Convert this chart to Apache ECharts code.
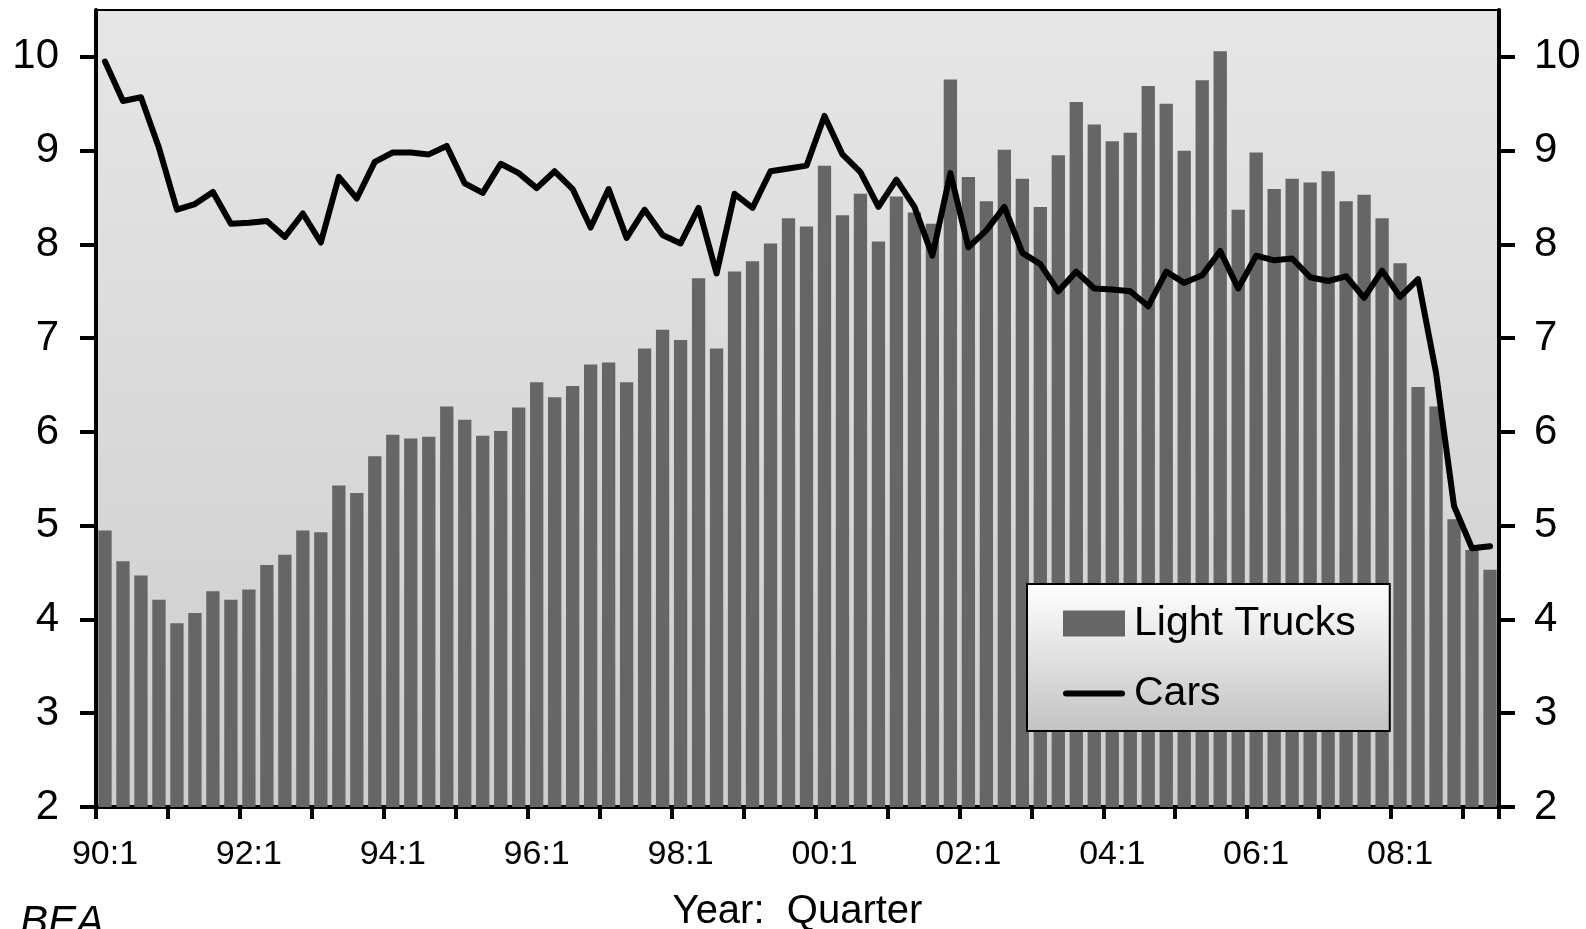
<!DOCTYPE html>
<html>
<head>
<meta charset="utf-8">
<title>Light Trucks vs Cars</title>
<script src="https://cdn.jsdelivr.net/npm/echarts@6.0.0/dist/echarts.min.js"></script>
<style>
  html, body { margin: 0; padding: 0; background: #fff; }
  #chart { width: 1586px; height: 929px; }
</style>
</head>
<body>
<div id="chart"></div>
<script>
// quarters 90:1 .. 09:2
const quarters = [];
for (let y = 1990; y <= 2009; y++) {
  for (let q = 1; q <= 4; q++) {
    if (y === 2009 && q > 2) break;
    quarters.push(String(y % 100).padStart(2, '0') + ':' + q);
  }
}

const lightTrucks = [
  4.95, 4.62, 4.47, 4.21, 3.96, 4.07, 4.30, 4.21, 4.32, 4.58, 4.69, 4.95, 4.93, 5.43, 5.35, 5.74,
  5.97, 5.93, 5.95, 6.27, 6.13, 5.96, 6.01, 6.26, 6.53, 6.37, 6.49, 6.72, 6.74, 6.53, 6.89, 7.09,
  6.98, 7.64, 6.89, 7.71, 7.82, 8.01, 8.28, 8.19, 8.84, 8.31, 8.54, 8.03, 8.51, 8.34, 8.22, 9.76,
  8.72, 8.46, 9.01, 8.70, 8.40, 8.95, 9.52, 9.28, 9.10, 9.19, 9.69, 9.50, 9.00, 9.75, 10.06, 8.37,
  8.98, 8.59, 8.70, 8.66, 8.78, 8.46, 8.53, 8.28, 7.80, 6.48, 6.27, 5.07, 4.74, 4.53
];

const cars = [
  9.95, 9.53, 9.57, 9.03, 8.37, 8.43, 8.56, 8.22, 8.23, 8.25, 8.08, 8.33, 8.02, 8.72, 8.49, 8.88,
  8.98, 8.98, 8.96, 9.05, 8.65, 8.55, 8.86, 8.76, 8.60, 8.78, 8.59, 8.18, 8.59, 8.07, 8.37, 8.10,
  8.01, 8.39, 7.69, 8.54, 8.39, 8.78, 8.81, 8.84, 9.37, 8.96, 8.77, 8.40, 8.69, 8.40, 7.88, 8.76,
  7.97, 8.15, 8.40, 7.91, 7.79, 7.50, 7.71, 7.53, 7.52, 7.50, 7.34, 7.71, 7.59, 7.67, 7.93, 7.53,
  7.88, 7.83, 7.85, 7.65, 7.61, 7.66, 7.43, 7.72, 7.44, 7.63, 6.63, 5.21, 4.76, 4.78
];

const yTicks = [2, 3, 4, 5, 6, 7, 8, 9, 10];

const font = '"Liberation Sans", Arial, sans-serif';

const chart = echarts.init(document.getElementById('chart'));

function valueAxis(pos, margin) {
  return {
    type: 'value',
    position: pos,
    min: 2,
    max: 10.5,
    interval: 1,
    splitLine: { show: false },
    axisLine: { show: true, lineStyle: { color: '#000', width: 4 } },
    axisTick: {
      show: true,
      inside: false,
      length: 16,
      customValues: yTicks,
      lineStyle: { color: '#000', width: 4 }
    },
    axisLabel: {
      customValues: yTicks,
      margin: margin,
      color: '#000',
      fontSize: 42,
      fontFamily: font
    }
  };
}

const option = {
  animation: false,
  title: {
    text: 'BEA',
    left: 20,
    top: 902,
    padding: 0,
    textStyle: { fontSize: 42, fontStyle: 'italic', fontWeight: 'normal', color: '#000', fontFamily: font }
  },
  grid: {
    left: 96,
    right: 87,
    top: 10,
    bottom: 122,
    outerBoundsMode: 'none',
    show: true,
    borderColor: '#000',
    borderWidth: 2,
    backgroundColor: {
      type: 'linear', x: 0, y: 0, x2: 0, y2: 1,
      colorStops: [
        { offset: 0, color: '#e6e6e6' },
        { offset: 1, color: '#cdcdcd' }
      ]
    }
  },
  legend: {
    orient: 'vertical',
    left: 1027,
    top: 584,
    padding: [19, 34, 17, 36],
    itemGap: 29,
    itemWidth: 62,
    itemHeight: 26,
    borderColor: '#000',
    borderWidth: 2,
    backgroundColor: {
      type: 'linear', x: 0, y: 0, x2: 0, y2: 1,
      colorStops: [
        { offset: 0, color: '#ffffff' },
        { offset: 1, color: '#c2c2c2' }
      ]
    },
    textStyle: { fontSize: 41, color: '#000', fontFamily: font, padding: [0, 0, 0, 4] },
    data: [
      { name: 'Light Trucks', icon: 'rect' },
      { name: 'Cars', icon: 'path://M3,0H59A3,3 0 0 1 59,6H3A3,3 0 0 1 3,0Z', itemStyle: { color: '#000' } }
    ]
  },
  xAxis: {
    type: 'category',
    data: quarters,
    boundaryGap: true,
    name: 'Year:  Quarter',
    nameLocation: 'middle',
    nameGap: 85,
    nameTextStyle: { fontSize: 40, color: '#000', fontFamily: font, verticalAlign: 'top' },
    axisLine: { show: true, lineStyle: { color: '#000', width: 4 } },
    axisTick: {
      show: true,
      interval: 3,
      length: 12,
      alignWithLabel: false,
      lineStyle: { color: '#000', width: 4 }
    },
    axisLabel: {
      interval: 7,
      margin: 31,
      color: '#000',
      fontSize: 34,
      fontFamily: font
    }
  },
  yAxis: [valueAxis('left', 37), valueAxis('right', 35)],
  series: [
    {
      name: 'Light Trucks',
      type: 'bar',
      data: lightTrucks,
      barCategoryGap: '26%',
      itemStyle: { color: '#666666' }
    },
    {
      name: 'Cars',
      type: 'line',
      data: cars,
      symbol: 'none',
      lineStyle: { color: '#000', width: 6, cap: 'round', join: 'round' },
      itemStyle: { color: '#000' },
      z: 5
    }
  ]
};

chart.setOption(option);
</script>
</body>
</html>
